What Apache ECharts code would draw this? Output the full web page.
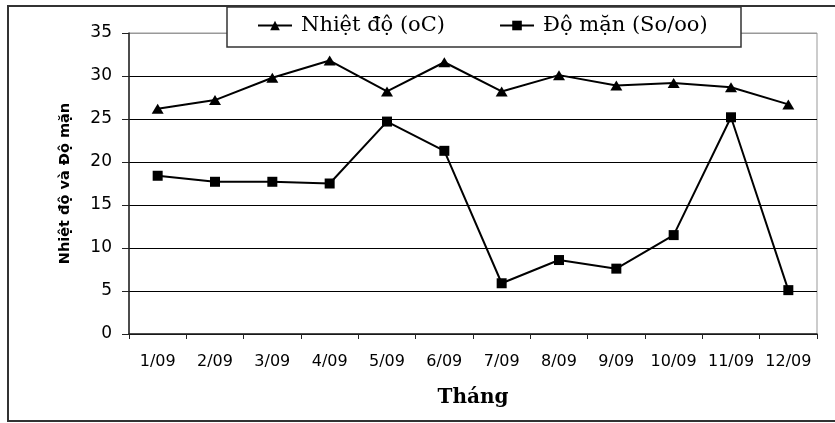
<!DOCTYPE html>
<html>
<head>
<meta charset="utf-8">
<script src="https://cdn.jsdelivr.net/npm/echarts@6/dist/echarts.min.js"></script>
<style>
  html, body { margin: 0; padding: 0; background: #fff; overflow: hidden; }
  #chart { width: 835px; height: 423px; }
</style>
</head>
<body>
<div id="chart"></div>
<script>
// Monthly temperature and salinity, 2009
const months = ['1/09', '2/09', '3/09', '4/09', '5/09', '6/09', '7/09', '8/09', '9/09', '10/09', '11/09', '12/09'];
const temperature = [26.2, 27.2, 29.8, 31.8, 28.2, 31.6, 28.2, 30.1, 28.9, 29.2, 28.7, 26.7];
const salinity = [18.4, 17.7, 17.7, 17.5, 24.7, 21.3, 5.9, 8.6, 7.6, 11.5, 25.2, 5.1];
const yTicks = { min: 0, max: 35, interval: 5 };

const seriesNames = ['Nhiệt độ (oC)', 'Độ mặn (So/oo)'];

const chart = echarts.init(document.getElementById('chart'), null, { renderer: 'canvas' });

// top gridline doubles as the plot frame, so it takes the frame's grey
const gridColors = ['#000', '#000', '#000', '#000', '#000', '#000', '#000', '#999'];

chart.setOption({
  animation: false,
  backgroundColor: '#fff',
  grid: {
    left: 129, right: 18, top: 33, bottom: 89,
    show: true, borderColor: '#999', borderWidth: 1, backgroundColor: 'transparent'
  },
  graphic: [
    {
      type: 'rect', z: 1,
      shape: { x: 8, y: 6, width: 900, height: 415 },
      style: { fill: 'none', stroke: '#333', lineWidth: 2 }
    },
    {
      type: 'rect', z: 3,
      shape: { x: 227, y: 7, width: 514, height: 40 },
      style: { fill: '#fff', stroke: '#333', lineWidth: 1.5 }
    }
  ],
  legend: {
    z: 10,
    left: 257, top: 15,
    padding: 0,
    itemWidth: 34, itemHeight: 12,
    itemGap: 54,
    data: seriesNames,
    textStyle: {
      fontFamily: 'DejaVu Serif', fontSize: 21, color: '#000', padding: [0, 0, 0, 4]
    }
  },
  xAxis: {
    type: 'category',
    data: months,
    boundaryGap: true,
    name: 'Tháng',
    nameLocation: 'middle',
    nameGap: 54,
    nameTextStyle: { fontFamily: 'DejaVu Serif', fontWeight: 'bold', fontSize: 20, color: '#000' },
    axisLine: { lineStyle: { color: '#222', width: 1.5 } },
    axisTick: { show: true, interval: 0, length: 5, lineStyle: { color: '#222', width: 1 } },
    axisLabel: { interval: 0, hideOverlap: false, fontFamily: 'DejaVu Sans', fontSize: 16, color: '#000', margin: 20 }
  },
  yAxis: {
    type: 'value',
    min: yTicks.min, max: yTicks.max, interval: yTicks.interval,
    name: 'Nhiệt độ và Độ mặn',
    nameLocation: 'middle',
    nameGap: 56,
    nameTextStyle: { fontFamily: 'DejaVu Sans', fontWeight: 'bold', fontSize: 14.5, color: '#000' },
    axisLine: { show: true, lineStyle: { color: '#222', width: 1.5 } },
    axisTick: { show: true, length: 7, lineStyle: { color: '#222', width: 1 } },
    axisLabel: { fontFamily: 'DejaVu Sans', fontSize: 17, color: '#000', margin: 17 },
    splitLine: { show: true, lineStyle: { color: gridColors, width: 1 } }
  },
  series: [
    {
      name: seriesNames[0],
      type: 'line',
      data: temperature,
      symbol: 'triangle',
      symbolSize: [12, 10],
      lineStyle: { color: '#000', width: 2 },
      itemStyle: { color: '#000' }
    },
    {
      name: seriesNames[1],
      type: 'line',
      data: salinity,
      symbol: 'rect',
      symbolSize: 10,
      lineStyle: { color: '#000', width: 2 },
      itemStyle: { color: '#000' }
    }
  ]
});
</script>
</body>
</html>
